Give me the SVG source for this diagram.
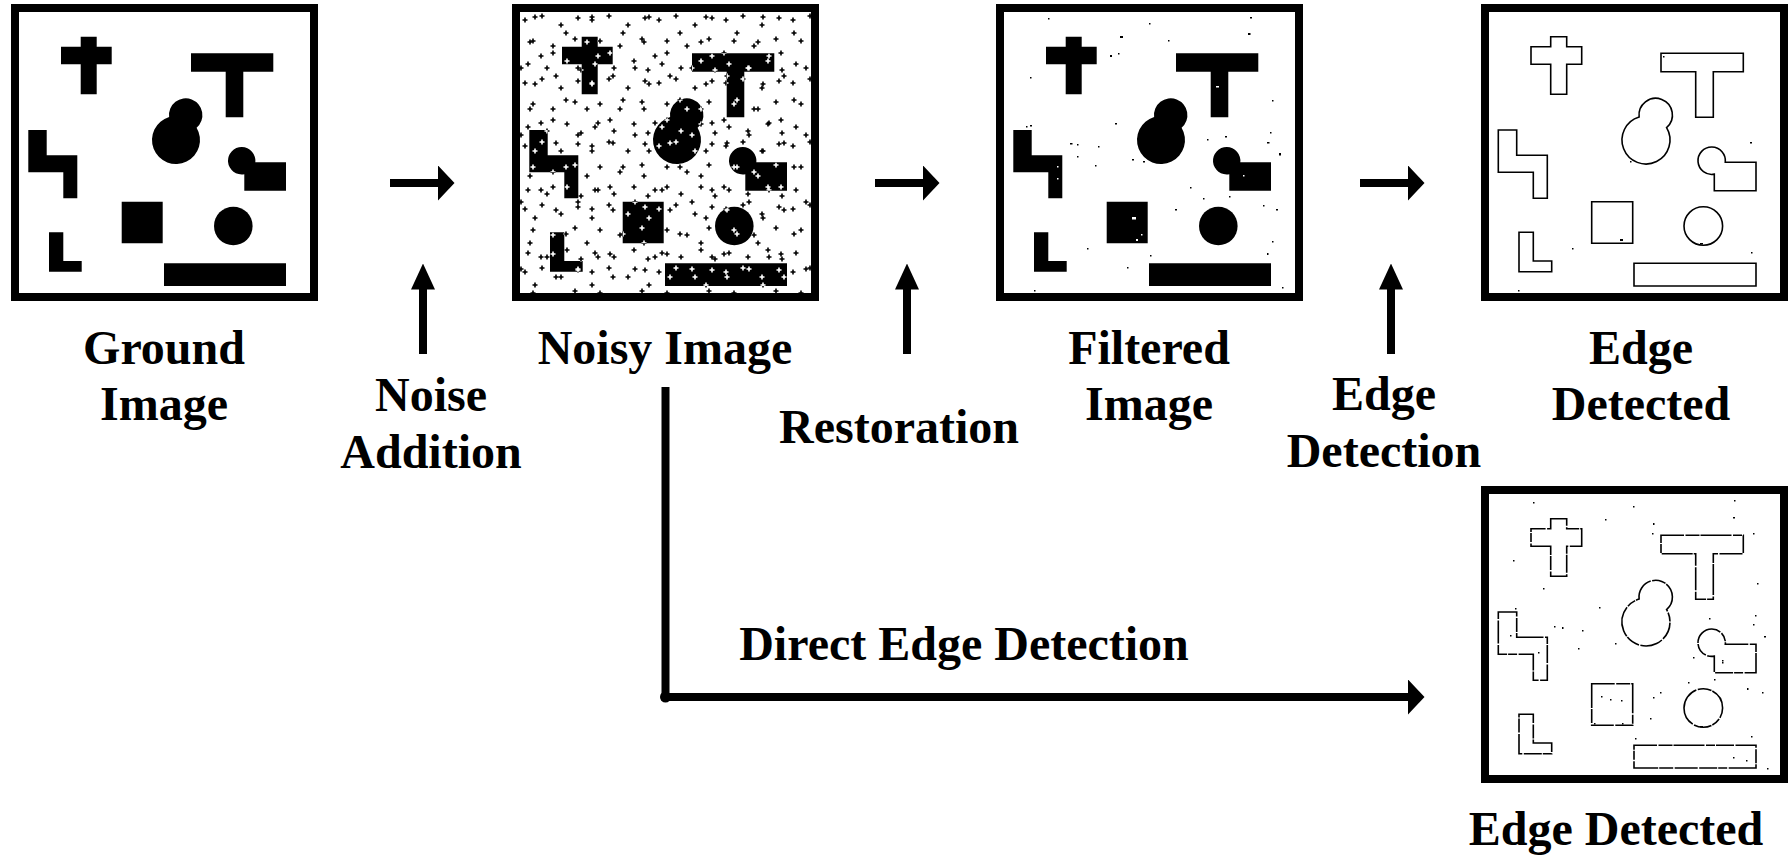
<svg xmlns="http://www.w3.org/2000/svg" xmlns:xlink="http://www.w3.org/1999/xlink" width="1791" height="859" viewBox="0 0 1791 859">
  <style>
    .frame{fill:#fff;stroke:#000;stroke-width:8}
    .lbl{font-family:"Liberation Serif","Times New Roman",serif;font-weight:bold;font-size:48px;fill:#000;text-anchor:middle}
    .shaft{fill:none;stroke:#000;stroke-width:8}
    .route{fill:none;stroke:#000;stroke-width:8}
    .edge{fill:none;stroke:#000;stroke-width:1.6}
    .speck{fill:#000;stroke:none}
  </style>
  <defs>
    <!-- test shapes, in the local frame of one panel (frame outer box 11,4 to 318,301) -->
    <g id="shp">
      <path d="M80.7 36.7H96.7V46.7H111.7V64.3H96.7V94.3H80.7V64.3H61V46.7H80.7Z"/>
      <path d="M191 53.3H273.3V71.7H243.3V117.3H225.7V71.7H191Z"/>
      <path d="M169.12 117.01A16.7 16.7 0 1 1 196.58 127.67A24 24 0 1 1 169.12 117.01Z"/>
      <path d="M255.3 162.3H286V190.7H244.3V174.15A13.7 13.7 0 1 1 255.3 162.3Z"/>
      <path d="M28.3 130H46.7V155.3H77.3V198.3H63.3V172.3H28.3Z"/>
      <path d="M121.7 201.7H162.7V243.3H121.7Z"/>
      <path d="M214 226A19.3 19.3 0 1 1 252.6 226A19.3 19.3 0 1 1 214 226Z"/>
      <path d="M49 232.3H63.3V261H81.7V271.7H49Z"/>
      <path d="M164 263.3H286V286H164Z"/>
    </g>

    <!-- impulse noise mark -->
    <path id="pl" d="M-0.8-2.5h1.6v1.7h1.7v1.6h-1.7v1.7h-1.6v-1.7h-1.7v-1.6h1.7z"/>
    <g id="tA">
      <use href="#pl" x="5" y="8"/><use href="#pl" x="22" y="4"/><use href="#pl" x="41" y="13"/>
      <use href="#pl" x="58" y="6"/><use href="#pl" x="13" y="29"/><use href="#pl" x="33" y="34"/>
      <use href="#pl" x="55" y="27"/><use href="#pl" x="8" y="52"/><use href="#pl" x="27" y="56"/>
      <use href="#pl" x="47" y="49"/><use href="#pl" x="61" y="58"/>
    </g>
    <g id="tB">
      <use href="#pl" x="9" y="14"/><use href="#pl" x="31" y="6"/><use href="#pl" x="45" y="22"/>
      <use href="#pl" x="19" y="38"/><use href="#pl" x="40" y="47"/><use href="#pl" x="6" y="58"/>
      <use href="#pl" x="51" y="61"/>
    </g>
    <pattern id="nA" patternUnits="userSpaceOnUse" x="19" y="12" width="67" height="63"><use href="#tA" fill="#000"/></pattern>
    <pattern id="nB" patternUnits="userSpaceOnUse" x="-11" y="-5" width="57" height="67"><use href="#tB" fill="#000"/></pattern>
    <pattern id="wA" patternUnits="userSpaceOnUse" x="19" y="12" width="67" height="63"><use href="#tA" fill="#fff"/></pattern>
    <pattern id="wB" patternUnits="userSpaceOnUse" x="-11" y="-5" width="57" height="67"><use href="#tB" fill="#fff"/></pattern>
    <mask id="mShp" maskUnits="userSpaceOnUse" x="0" y="0" width="330" height="310">
      <use href="#shp" fill="#fff"/>
    </mask>

    <marker id="ah" markerUnits="userSpaceOnUse" viewBox="0 0 17 36" markerWidth="17" markerHeight="36" refX="0.5" refY="18" orient="auto">
      <path d="M0 0L17 18L0 36Z" fill="#000"/>
    </marker>
    <marker id="av" markerUnits="userSpaceOnUse" viewBox="0 0 26 24" markerWidth="26" markerHeight="24" refX="0.5" refY="12" orient="auto">
      <path d="M0 0L26 12L0 24Z" fill="#000"/>
    </marker>
  </defs>

  <rect width="1791" height="859" fill="#fff"/>

  <!-- ground truth image -->
  <g id="ground">
    <rect class="frame" x="15" y="8" width="299" height="289"/>
    <use href="#shp" fill="#000"/>
    <text class="lbl" x="164" y="364">Ground</text>
    <text class="lbl" x="164" y="420">Image</text>
  </g>

  <!-- image corrupted by impulse noise -->
  <g id="noisy">
    <g transform="translate(501,0)">
      <rect class="frame" x="15" y="8" width="299" height="289"/>
      <rect x="19" y="12" width="291" height="281" fill="url(#nA)"/>
      <rect x="19" y="12" width="291" height="281" fill="url(#nB)"/>
      <use href="#shp" fill="#000"/>
      <g mask="url(#mShp)">
        <rect x="19" y="12" width="291" height="281" fill="url(#wA)"/>
        <rect x="19" y="12" width="291" height="281" fill="url(#wB)"/>
      </g>
    </g>
    <text class="lbl" x="665" y="364">Noisy Image</text>
  </g>

  <!-- restored image -->
  <g id="filtered">
    <g transform="translate(985,0)">
      <rect class="frame" x="15" y="8" width="299" height="289"/>
      <use href="#shp" fill="#000"/>
      <path class="speck" d="M63 18h1.5v1.5h-1.5zM135 36h3v2h-3zM164 23h1.5v1.5h-1.5zM265 17h2v1.5h-2zM263 33h2.5v2h-2.5zM45 77h1.5v1.5h-1.5zM183 40h1.5v1.5h-1.5zM125 55h2v2h-2zM133 53h1.5v1.5h-1.5zM287 100h1.5v1.5h-1.5zM45 125h2v1.5h-2zM130 123h2v1.5h-2zM85 143h2.5v1.5h-2.5zM92 144h1.5v1.5h-1.5zM113 146h1.5v1.5h-1.5zM92 156h1.5v1.5h-1.5zM110 165h1.5v1.5h-1.5zM147 159h2v1.5h-2zM222 139h1.5v1.5h-1.5zM240 136h2v1.5h-2zM282 142h2.5v1.5h-2.5zM285 132h1.5v1.5h-1.5zM294 153h2v2.5h-2zM205 187h1.5v1.5h-1.5zM218 198h1.5v1.5h-1.5zM244 196h1.5v1.5h-1.5zM190 209h2v1.5h-2zM278 205h1.5v1.5h-1.5zM291 209h2v1.5h-2zM102 248h1.5v1.5h-1.5zM287 241h1.5v1.5h-1.5zM282 253h1.5v2h-1.5zM165 255h1.5v1.5h-1.5zM142 267h1.5v1.5h-1.5zM297 287h1.5v1.5h-1.5zM49 290h1.5v1.5h-1.5zM158 161h2v1.5h-2zM41 126h1.5v1.5h-1.5z"/>
      <path d="M147 217h4v2.5h-4zM151 239h2v2h-2zM156 234h1.5v1.5h-1.5zM231 86h3v1.5h-3zM72 166h1.5v1.5h-1.5zM72 178h1.5v1.5h-1.5zM258 175h1.5v1.5h-1.5z" fill="#fff"/>
    </g>
    <text class="lbl" x="1149" y="364">Filtered</text>
    <text class="lbl" x="1149" y="420">Image</text>
  </g>

  <!-- edges of the restored image -->
  <g id="edges-filtered">
    <g transform="translate(1470,0)">
      <rect class="frame" x="15" y="8" width="299" height="289"/>
      <use href="#shp" class="edge"/>
      <path class="speck" d="M280 142h2v1.5h-2zM102 248h1.5v1.5h-1.5zM281 252h1.5v1.5h-1.5zM48 290h1.5v1.5h-1.5zM150 239h3v2h-3zM160 161h1.5v1.5h-1.5zM230 243h3v1.5h-3zM193 56h1.5v1.5h-1.5z"/>
    </g>
    <text class="lbl" x="1641" y="364">Edge</text>
    <text class="lbl" x="1641" y="420">Detected</text>
  </g>

  <!-- edges of the noisy image -->
  <g id="edges-noisy">
    <g transform="translate(1470,482)">
      <rect class="frame" x="15" y="8" width="299" height="289"/>
      <use href="#shp" class="edge" stroke-dasharray="23 1.5 14 1 31 1.5 9 1 18 1.5"/>
      <path class="speck" d="M63 20h1.5v1.5h-1.5zM163 24h1.5v1.5h-1.5zM264 18h1.5v1.5h-1.5zM135 37h1.5v1.5h-1.5zM183 41h1.5v2h-1.5zM263 35h2v1.5h-2zM182 51h1.5v1.5h-1.5zM283 51h1.5v1.5h-1.5zM43 78h1.5v1.5h-1.5zM73 106h1.5v1.5h-1.5zM287 101h1.5v1.5h-1.5zM45 126h1.5v1.5h-1.5zM129 125h1.5v1.5h-1.5zM84 144h1.5v1.5h-1.5zM92 145h1.5v2h-1.5zM112 148h1.5v1.5h-1.5zM108 166h1.5v1.5h-1.5zM145 161h1.5v1.5h-1.5zM239 136h1.5v1.5h-1.5zM285 133h1.5v1.5h-1.5zM283 142h1.5v1.5h-1.5zM294 154h2v1.5h-2zM223 175h1.5v1.5h-1.5zM252 178h1.5v1.5h-1.5zM218 200h1.5v1.5h-1.5zM244 197h1.5v1.5h-1.5zM190 210h1.5v1.5h-1.5zM183 215h1.5v1.5h-1.5zM277 206h1.5v2h-1.5zM292 210h1.5v1.5h-1.5zM180 236h1.5v1.5h-1.5zM165 256h1.5v1.5h-1.5zM281 254h1.5v1.5h-1.5zM297 286h1.5v1.5h-1.5zM131 214h1.5v1.5h-1.5zM140 217h1.5v1.5h-1.5zM151 218h1.5v1.5h-1.5zM40 153h1.5v1.5h-1.5zM68 170h1.5v1.5h-1.5zM263 275h1.5v1.5h-1.5zM276 278h1.5v1.5h-1.5zM230 244h3v1.5h-3zM252 180h1.5v1.5h-1.5zM124 241h1.5v1.5h-1.5zM152 241h1.5v1.5h-1.5z"/>
    </g>
    <text class="lbl" x="1616" y="845">Edge Detected</text>
  </g>

  <!-- processing steps -->
  <g id="connectors">
    <line class="shaft" x1="390" y1="183" x2="438" y2="183" marker-end="url(#ah)"/>
    <line class="shaft" x1="875" y1="183" x2="923" y2="183" marker-end="url(#ah)"/>
    <line class="shaft" x1="1360" y1="183" x2="1408" y2="183" marker-end="url(#ah)"/>

    <line class="shaft" x1="423" y1="354" x2="423" y2="289" marker-end="url(#av)"/>
    <line class="shaft" x1="907" y1="354" x2="907" y2="289" marker-end="url(#av)"/>
    <line class="shaft" x1="1391" y1="354" x2="1391" y2="289" marker-end="url(#av)"/>

    <polyline class="route" points="665.5,387 665.5,697 1408,697" marker-end="url(#ah)"/>
    <circle cx="665.5" cy="697" r="5.5" fill="#000"/>
  </g>

  <g id="step-labels">
    <text class="lbl" x="431" y="411">Noise</text>
    <text class="lbl" x="431" y="468">Addition</text>
    <text class="lbl" x="899" y="443">Restoration</text>
    <text class="lbl" x="1384" y="410">Edge</text>
    <text class="lbl" x="1384" y="467">Detection</text>
    <text class="lbl" x="964" y="660">Direct Edge Detection</text>
  </g>
</svg>
